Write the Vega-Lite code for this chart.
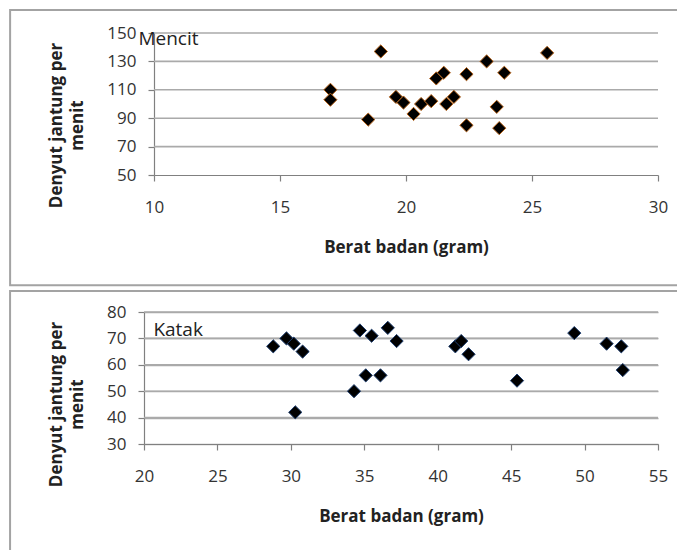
{
  "$schema": "https://vega.github.io/schema/vega-lite/v6.json",
  "padding": {"left": 9, "top": 8, "right": 0, "bottom": 0},
  "background": "white",
  "datasets": {
    "mencit": [
      {"berat": 17.0, "denyut": 110},
      {"berat": 17.0, "denyut": 103},
      {"berat": 18.5, "denyut": 89},
      {"berat": 19.0, "denyut": 137},
      {"berat": 19.6, "denyut": 105},
      {"berat": 19.9, "denyut": 101},
      {"berat": 20.3, "denyut": 93},
      {"berat": 20.6, "denyut": 100},
      {"berat": 21.0, "denyut": 102},
      {"berat": 21.2, "denyut": 118},
      {"berat": 21.5, "denyut": 122},
      {"berat": 21.6, "denyut": 100},
      {"berat": 21.9, "denyut": 105},
      {"berat": 22.4, "denyut": 121},
      {"berat": 22.4, "denyut": 85},
      {"berat": 23.2, "denyut": 130},
      {"berat": 23.6, "denyut": 98},
      {"berat": 23.7, "denyut": 83},
      {"berat": 23.9, "denyut": 122},
      {"berat": 25.6, "denyut": 136}
    ],
    "katak": [
      {"berat": 28.8, "denyut": 67},
      {"berat": 29.7, "denyut": 70},
      {"berat": 30.2, "denyut": 68},
      {"berat": 30.8, "denyut": 65},
      {"berat": 30.3, "denyut": 42},
      {"berat": 34.3, "denyut": 50},
      {"berat": 34.7, "denyut": 73},
      {"berat": 35.1, "denyut": 56},
      {"berat": 35.5, "denyut": 71},
      {"berat": 36.1, "denyut": 56},
      {"berat": 36.6, "denyut": 74},
      {"berat": 37.2, "denyut": 69},
      {"berat": 41.2, "denyut": 67},
      {"berat": 41.6, "denyut": 69},
      {"berat": 42.1, "denyut": 64},
      {"berat": 45.4, "denyut": 54},
      {"berat": 49.3, "denyut": 72},
      {"berat": 51.5, "denyut": 68},
      {"berat": 52.5, "denyut": 67},
      {"berat": 52.6, "denyut": 58}
    ],
    "gridMencit": [{"tick": 70}, {"tick": 90}, {"tick": 110}, {"tick": 130}, {"tick": 150}],
    "gridKatak": [{"tick": 40}, {"tick": 50}, {"tick": 60}, {"tick": 70}, {"tick": 80}]
  },
  "columns": 1,
  "align": "none",
  "spacing": 2,
  "concat": [
    {
      "width": 514,
      "height": 142,
      "layer": [
        {
          "data": {"name": "gridMencit"},
          "mark": {"type": "rule", "stroke": "#aaaaaa", "strokeWidth": 1.6, "opacity": 1},
          "encoding": {
            "x": {"datum": 10, "type": "quantitative"},
            "x2": {"datum": 30},
            "y": {"field": "tick", "type": "quantitative"}
          }
        },
        {
          "data": {"values": [{"frame": "chart area"}]},
          "mark": {"type": "rect", "fill": "transparent", "stroke": "#a3a3a3", "strokeWidth": 2, "clip": false},
          "encoding": {
            "x": {"datum": 4.29, "type": "quantitative"},
            "x2": {"datum": 31.2},
            "y": {"datum": 166.2, "type": "quantitative"},
            "y2": {"datum": -27.6}
          }
        },
        {
          "data": {"name": "mencit"},
          "mark": {"type": "point", "shape": "diamond", "filled": true, "size": 175, "fill": "#000000", "stroke": "#b8661e", "strokeWidth": 1, "opacity": 1},
          "encoding": {
            "x": {"field": "berat", "type": "quantitative", "scale": {"domain": [10, 30], "range": [10, 514], "nice": false, "zero": false},
              "axis": {"values": [10, 15, 20, 25, 30], "title": "Berat badan (gram)", "grid": false}},
            "y": {"field": "denyut", "type": "quantitative", "scale": {"domain": [50, 150], "nice": false, "zero": false},
              "axis": {"values": [50, 70, 90, 110, 130, 150], "tickCount": 6, "grid": false, "offset": -10, "title": ["Denyut jantung per", "menit"], "titleY": 92}}
          }
        },
        {
          "data": {"values": [{"label": "Mencit"}]},
          "mark": {"type": "text", "align": "left", "baseline": "alphabetic", "font": "Open Sans", "fontSize": 19, "color": "#222222"},
          "encoding": {
            "x": {"datum": 9.38, "type": "quantitative"},
            "y": {"datum": 141.5, "type": "quantitative"},
            "text": {"field": "label"}
          }
        }
      ]
    },
    {
      "width": 514,
      "height": 132,
      "layer": [
        {
          "data": {"name": "gridKatak"},
          "mark": {"type": "rule", "stroke": "#aaaaaa", "strokeWidth": 1.6, "opacity": 1},
          "encoding": {
            "x": {"datum": 20, "type": "quantitative"},
            "x2": {"datum": 55},
            "y": {"field": "tick", "type": "quantitative"}
          }
        },
        {
          "data": {"values": [{"frame": "chart area"}]},
          "mark": {"type": "rect", "fill": "transparent", "stroke": "#a3a3a3", "strokeWidth": 2, "clip": false},
          "encoding": {
            "x": {"datum": 10.88, "type": "quantitative"},
            "x2": {"datum": 56.8},
            "y": {"datum": 88.0, "type": "quantitative"},
            "y2": {"datum": -14.7}
          }
        },
        {
          "data": {"name": "katak"},
          "mark": {"type": "point", "shape": "diamond", "filled": true, "size": 175, "fill": "#000000", "stroke": "#1f3f70", "strokeWidth": 1, "opacity": 1},
          "encoding": {
            "x": {"field": "berat", "type": "quantitative", "scale": {"domain": [20, 55], "nice": false, "zero": false},
              "axis": {"values": [20, 25, 30, 35, 40, 45, 50, 55], "title": "Berat badan (gram)", "grid": false}},
            "y": {"field": "denyut", "type": "quantitative", "scale": {"domain": [30, 80], "nice": false, "zero": false},
              "axis": {"values": [30, 40, 50, 60, 70, 80], "tickCount": 6, "grid": true, "gridColor": "#aaaaaa", "gridWidth": 1.6, "title": ["Denyut jantung per", "menit"], "titleY": 92}}
          }
        },
        {
          "data": {"values": [{"label": "Katak"}]},
          "mark": {"type": "text", "align": "left", "baseline": "alphabetic", "font": "Open Sans", "fontSize": 19, "color": "#222222"},
          "encoding": {
            "x": {"datum": 20.64, "type": "quantitative"},
            "y": {"datum": 70.8, "type": "quantitative"},
            "text": {"field": "label"}
          }
        }
      ]
    }
  ],
  "config": {
    "view": {"stroke": null},
    "font": "Open Sans",
    "axis": {
      "labelFont": "Open Sans",
      "labelFontSize": 17,
      "labelColor": "#333333",
      "labelOverlap": false,
      "labelFlush": false,
      "labelBound": false,
      "titleFont": "Open Sans",
      "titleFontSize": 17,
      "titleFontWeight": "bold",
      "titleColor": "#222222",
      "titleLineHeight": 21,
      "domainColor": "#808080",
      "domainWidth": 1.2,
      "tickColor": "#808080",
      "tickWidth": 1.2,
      "tickSize": 6
    },
    "axisX": {"labelPadding": 18, "titlePadding": 24},
    "axisY": {"labelPadding": 12, "titlePadding": 20, "titleAngle": -90, "titleBaseline": "bottom"}
  }
}
